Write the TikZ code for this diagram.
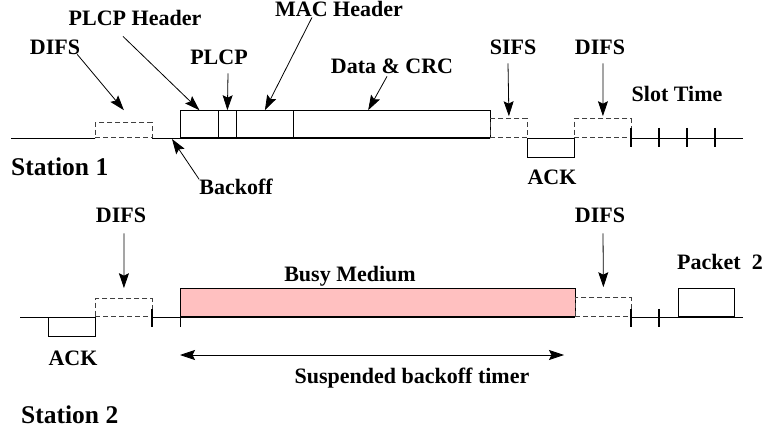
\documentclass[tikz,border=0pt]{standalone}
\usepackage{fontspec}
\setmainfont{Liberation Serif}
\usepackage{tikz}
\usetikzlibrary{arrows.meta,calc}
\definecolor{busypink}{RGB}{255,192,192}

\begin{document}
\begin{tikzpicture}[x=1pt,y=-1pt]
\tikzstyle{lbl}=[font=\fontsize{22}{26}\selectfont\bfseries, inner sep=0pt, anchor=base]
\tikzstyle{stn}=[font=\fontsize{25.5}{30}\selectfont\bfseries, inner sep=0pt, anchor=base west]
\tikzstyle{connect}=[-{Stealth[length=15pt,width=10pt,inset=2.5pt]}, line width=0.8pt]
\tikzstyle{frame}=[rectangle, draw, line width=0.8pt, inner sep=0pt, anchor=south west]
\tikzstyle{gap}=[frame, draw=black!75, dash pattern=on 5pt off 3pt]
\tikzstyle{wire}=[line width=0.8pt]
\tikzstyle{tick}=[line width=1.4pt]
\useasboundingbox (0,0) rectangle (765,435);

% Station 1
\draw[wire] (11,138) -- (95,138) (152,138) -- (490,138) (527,138) -- (574,138) (631,138) -- (743,138);
\node[gap, minimum width=57pt, minimum height=15pt] (difsb1) at (95,138) {};
\node[frame, minimum width=38pt, minimum height=27pt] (phdrb) at (180,138) {};
\node[frame, minimum width=18pt, minimum height=27pt] (plcpb) at (218,138) {};
\node[frame, minimum width=57pt, minimum height=27pt] (machb) at (236,138) {};
\node[frame, minimum width=197pt, minimum height=27pt] (datab) at (293,138) {};
\node[gap, minimum width=37pt, minimum height=19pt] (sifsb) at (490,138) {};
\node[frame, anchor=north west, minimum width=47pt, minimum height=19pt] (ackb1) at (527,138) {};
\node[gap, minimum width=57pt, minimum height=19pt] (difsb2) at (574,138) {};
\foreach \x in {631,659,687,715}
  \draw[tick] (\x,128) -- (\x,147);

\node[lbl] (difs1) at (55,55) {DIFS};
\node[lbl] (phdr) at (135,26) {PLCP Header};
\node[lbl] (plcp) at (219,65) {PLCP};
\node[lbl] (mach) at (339,17) {MAC Header};
\node[lbl] (datl) at (392,74) {Data \& CRC};
\node[lbl] (sifs) at (513,55) {SIFS};
\node[lbl] (difs2) at (600,55) {DIFS};
\node[lbl] (slot) at (677,102) {Slot Time};
\node[lbl] (ack1) at (552,185) {ACK};
\node[lbl] (boff) at (236,195) {Backoff};
\node[stn] (st1) at (11,176) {Station 1};
\coordinate (bo) at (172,139);

\draw[connect] ($(difs1.south east)+(-3,-1)$) -- ([yshift=12pt]difsb1.north);
\draw[connect] ($(phdr.south)+(-12,10)$) -- (phdrb.north);
\draw[connect] ($(plcp.south)+(9,8)$) -- (plcpb.north);
\draw[connect] ($(mach.south)+(-27,0)$) -- (machb.north);
\draw[connect] ($(datl.south)+(-5,2)$) -- ($(datab.north west)!0.38!(datab.north east)$);
\draw[connect] ($(sifs.south)+(-5,8)$) -- ([yshift=2pt]sifsb.north);
\draw[connect] ($(difs2.south)+(3,8)$) -- ([yshift=2pt]difsb2.north);
\draw[connect] (boff.north west) -- (bo);

% Station 2
\draw[wire] (20,317) -- (95,317) (152,317) -- (575,317) (631,317) -- (743,317);
\node[frame, anchor=north west, minimum width=47pt, minimum height=19pt] (ackb2) at (48,317) {};
\node[gap, minimum width=57pt, minimum height=18pt] (difsb3) at (95,317) {};
\node[frame, fill=busypink, minimum width=395pt, minimum height=28pt] (busyb) at (180,317) {};
\node[gap, minimum width=56pt, minimum height=19pt] (difsb4) at (575,317) {};
\node[frame, minimum width=56pt, minimum height=28pt] (pktb) at (678,317) {};
\draw[wire] (busyb.south west) -- ++(0,10);
\foreach \x in {152,631,659}
  \draw[tick] (\x,309) -- (\x,327);

\node[lbl] (difs3) at (121,223) {DIFS};
\node[lbl] (busy) at (350,282) {Busy Medium};
\node[lbl] (difs4) at (600,223) {DIFS};
\node[lbl] (pkt) at (720,270) {Packet\ \ 2};
\node[lbl] (ack2) at (73,365) {ACK};
\node[lbl] (susp) at (412,383) {Suspended backoff timer};
\node[stn] (st2) at (21,423) {Station 2};
\coordinate (sa) at (180,355);
\coordinate (sb) at (564,355);

\draw[connect] ($(difs3.south)+(3,10)$) -- ([yshift=10pt]difsb3.north);
\draw[connect] ($(difs4.south)+(3,10)$) -- ([yshift=10pt]difsb4.north);
\draw[connect, {Stealth[length=15pt,width=10pt,inset=2.5pt]}-{Stealth[length=15pt,width=10pt,inset=2.5pt]}] (sa) -- (sb);
\end{tikzpicture}
\end{document}
